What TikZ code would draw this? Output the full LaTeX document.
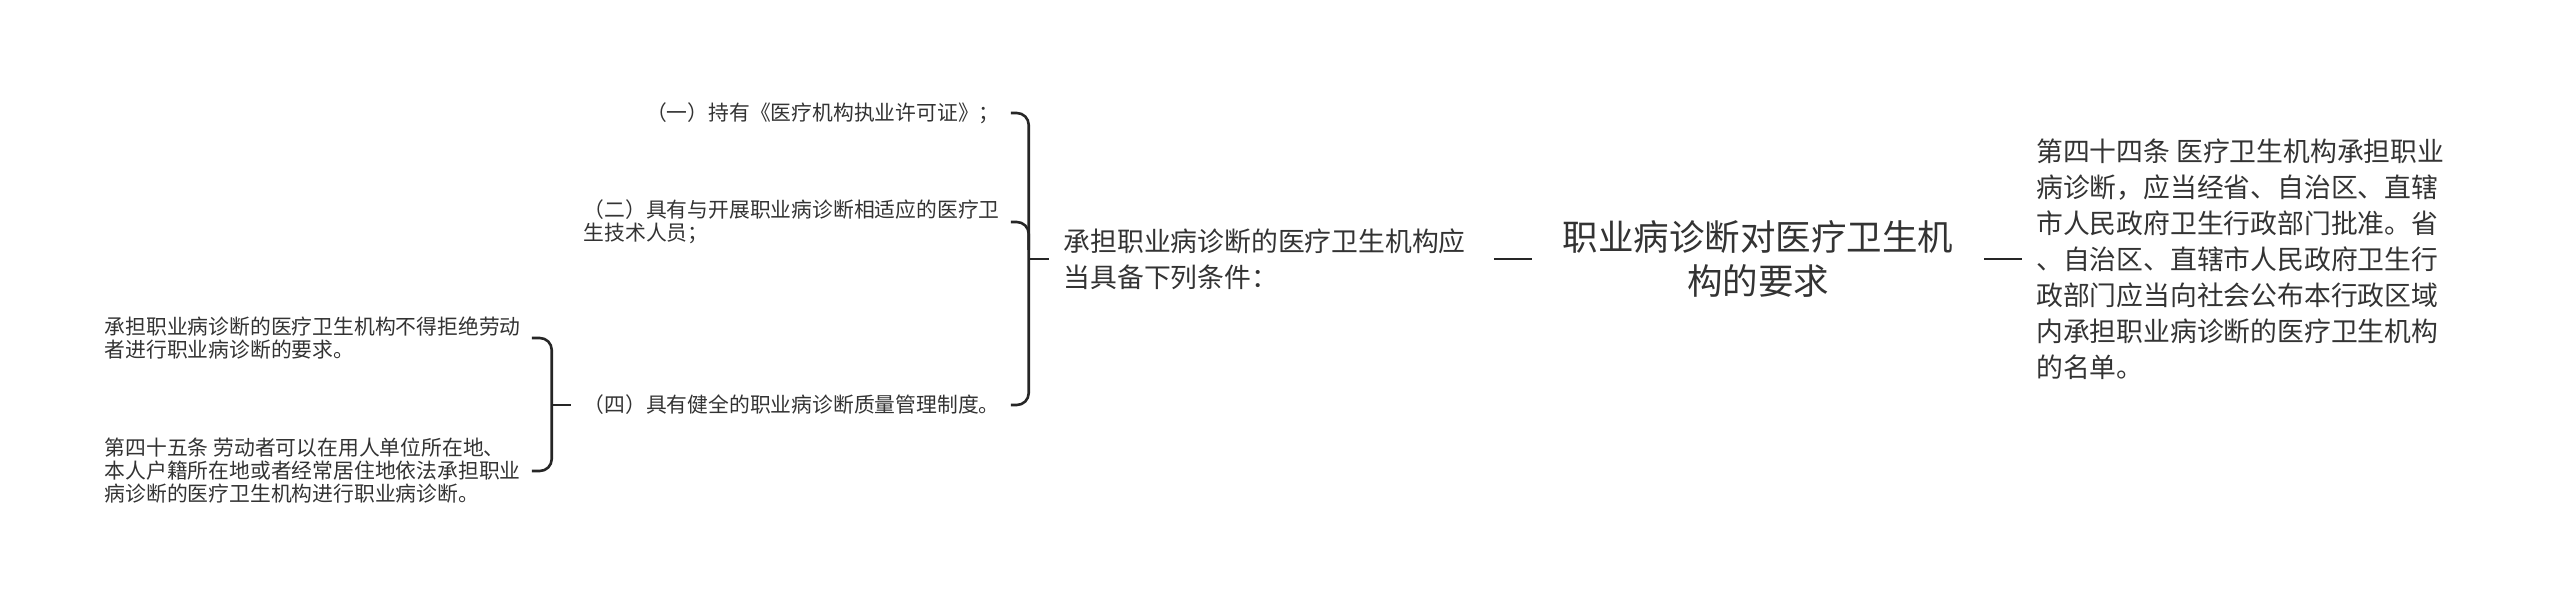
\documentclass[tikz,border=0pt]{standalone}
\usepackage{fontspec}
\usetikzlibrary{positioning}
\newfontfamily\cjk{Noto Sans CJK SC}
\definecolor{inkgray}{HTML}{333333}

\begin{document}
\begin{tikzpicture}[x=0.5pt, y=-0.5pt,
    every node/.style={inner sep=0pt, outer sep=0pt, text=inkgray},
    topic/.style={align=center, inner xsep=15.5pt, font=\cjk\fontsize{17.75}{22}\selectfont},
    branch/.style={align=left, font=\cjk\fontsize{13.4}{18}\selectfont},
    leaf/.style={align=left, inner xsep=5.5pt, anchor=east, font=\cjk\fontsize{10.4}{11.5}\selectfont},
    link/.style={line width=1.3pt, draw=black!85, rounded corners=6pt}]
  \useasboundingbox (0,0) rectangle (2560,613);

  \node[topic] (root) at (1758,259) {职业病诊断对医疗卫生机\\构的要求};
  \node[branch, left=33pt of root] (cond) {承担职业病诊断的医疗卫生机构应\\当具备下列条件：};
  \node[branch, inner xsep=7pt, right=19pt of root] (art44) {第四十四条 医疗卫生机构承担职业\\病诊断，应当经省、自治区、直辖\\市人民政府卫生行政部门批准。省\\、自治区、直辖市人民政府卫生行\\政部门应当向社会公布本行政区域\\内承担职业病诊断的医疗卫生机构\\的名单。};
  \draw[link, shorten <=14pt] (cond.east) -- (root.west);
  \draw[link] (root.east) -- (art44.west);

  % conditions
  \coordinate[left=7.5pt of cond.west] (j1);
  \coordinate[left=10pt of j1] (b1);
  \node[leaf, left=9pt of b1, yshift=73pt] (opt1) {（一）持有《医疗机构执业许可证》；};
  \node[leaf, left=9pt of b1, yshift=18.5pt] (opt2) {（二）具有与开展职业病诊断相适应的医疗卫\\生技术人员；};
  \node[leaf, left=9pt of b1, yshift=-73pt] (opt4) {（四）具有健全的职业病诊断质量管理制度。};
  \draw[link] (j1) -- (b1);
  \draw[link] (opt1.east) -- (b1 |- opt1.east) -- (b1 |- opt4.east) -- (opt4.east);
  \draw[link] (opt2.east) -- (b1 |- opt2.east) -- ++(0,-14pt);

  % quality system
  \coordinate[left=1pt of opt4.west] (j2);
  \coordinate[left=9.5pt of j2] (b2);
  \node[leaf, left=10pt of b2, yshift=33.5pt] (refuse) {承担职业病诊断的医疗卫生机构不得拒绝劳动\\者进行职业病诊断的要求。};
  \node[leaf, left=10pt of b2, yshift=-33pt] (art45) {第四十五条 劳动者可以在用人单位所在地、\\本人户籍所在地或者经常居住地依法承担职业\\病诊断的医疗卫生机构进行职业病诊断。};
  \draw[link] (j2) -- (b2);
  \draw[link] (refuse.east) -- (b2 |- refuse.east) -- (b2 |- art45.east) -- (art45.east);
\end{tikzpicture}
\end{document}
